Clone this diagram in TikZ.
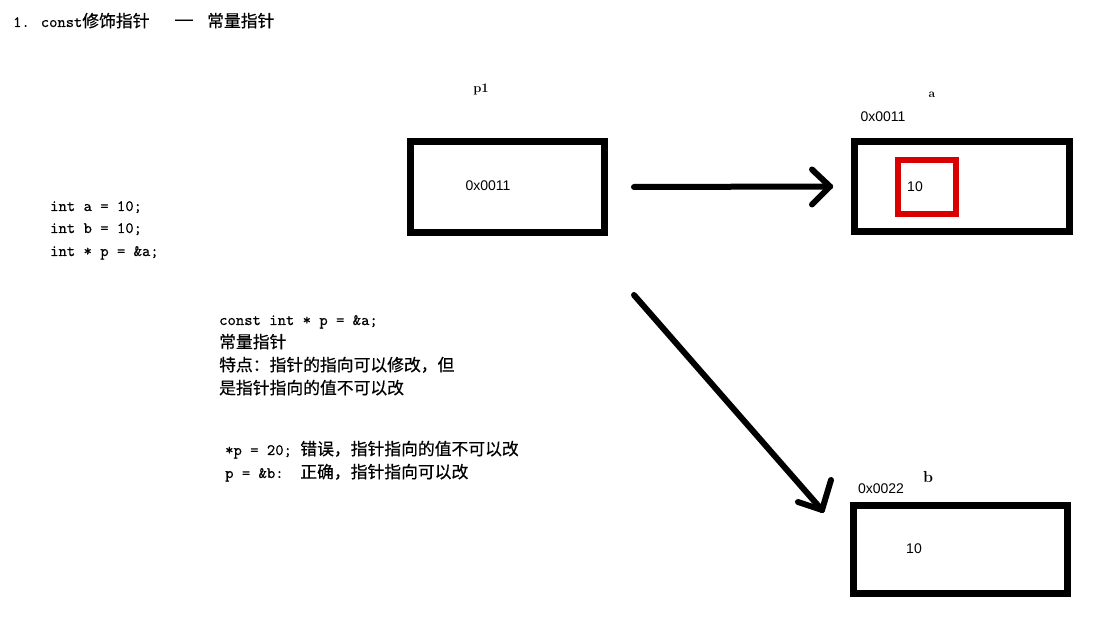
\documentclass[tikz,border=0pt]{standalone}
\usepackage{fontspec}
\newfontfamily\cjk[FakeBold=0.5]{Noto Sans CJK SC}
\newfontfamily\code{lmmono10-regular}[Extension=.otf, FakeBold=0.4]
\newfontfamily\lab{Liberation Sans}
\begin{document}
\begin{tikzpicture}[x=1pt,y=-1pt,
  membox/.style={draw=black, line width=7pt, minimum width=#1, inner sep=0pt, fill=white},
  txt/.style={inner sep=0pt, anchor=west, text height=0.8em, text depth=0.2em, font=\fontsize{16.8}{16.8}\selectfont},
  lbl/.style={inner sep=0pt, font=\lab\fontsize{14}{14}\selectfont},
  ptr/.style={line width=6pt, line cap=round, line join=round}]
\useasboundingbox[fill=white] (0,0) rectangle (1098,617);

% title
\node[txt] (title1) at (13,24) {\code\fontsize{15.8}{15.8}\selectfont 1. const\cjk\fontsize{16.8}{16.8}\selectfont 修饰指针};
\node[inner sep=0pt, font=\cjk\fontsize{22}{22}\selectfont] (dash) at (184,23) {—};
\node[txt] (title2) at (207,24) {\cjk 常量指针};

% code
\node[txt] (c1) at (50,208) {\code\fontsize{15.9}{15.9}\selectfont int a = 10;};
\node[txt] (c2) at (50,230) {\code\fontsize{15.9}{15.9}\selectfont int b = 10;};
\node[txt] (c3) at (50,253) {\code\fontsize{15.9}{15.9}\selectfont int * p = \&a;};

% explanation
\node[txt] (e1) at (219,322) {\code\fontsize{15.9}{15.9}\selectfont const int * p = \&a;};
\node[txt] (e2) at (219,345) {\cjk 常量指针};
\node[txt] (e3) at (219,368) {\cjk 特点：指针的指向可以修改，但};
\node[txt] (e4) at (219,391) {\cjk 是指针指向的值不可以改};
\node[txt] (e5) at (225,452) {\code\fontsize{15.9}{15.9}\selectfont *p = 20; \cjk\fontsize{16.8}{16.8}\selectfont 错误，指针指向的值不可以改};
\node[txt] (e6) at (225,475) {\code\fontsize{15.9}{15.9}\selectfont p = \&b:\ \ \cjk\fontsize{16.8}{16.8}\selectfont 正确，指针指向可以改};

% pointer p1
\node[inner sep=0pt, font=\fontsize{13}{13}\selectfont\bfseries] (lp1) at (481,90) {p1};
\node[membox=194pt, minimum height=91pt] (p1box) at (507.5,187) {};
\node[lbl] (v1) at (488,186) {0x0011};

% variable a
\node[inner sep=0pt, font=\fontsize{12}{12}\selectfont\bfseries] (la) at (932,95) {a};
\node[lbl] (adda) at (883,117) {0x0011};
\node[membox=215pt, minimum height=90pt] (abox) at (962,186.5) {};
\node[draw=red!85!black, line width=6pt, minimum width=58pt, minimum height=54pt, inner sep=0pt] (red) at (927,187) {};
\node[lbl] (va) at (915,187) {10};

% variable b
\node[inner sep=0pt, font=\fontsize{16}{16}\selectfont\bfseries] (lb) at (928,477) {b};
\node[lbl] (addb) at (881,489) {0x0022};
\node[membox=214pt, minimum height=88pt] (bbox) at (960.5,549.5) {};
\node[lbl] (vb) at (914,549) {10};

% arrows
\coordinate (s1) at ([xshift=26pt]p1box.east);
\coordinate (t1) at ([xshift=-21pt]abox.west);
\draw[ptr] (s1) -- (t1);
\draw[ptr] (t1) -- ++(-18,-17);
\draw[ptr] (t1) -- ++(-18,18);

\coordinate (s2) at ([xshift=26pt,yshift=-59pt]p1box.south east);
\coordinate (t2) at ([xshift=-28pt,yshift=-8pt]bbox.north west);
\draw[ptr] (s2) -- (t2);
\draw[ptr] (t2) -- ++(-24,-8);
\draw[ptr] (t2) -- ++(9,-30);
\end{tikzpicture}
\end{document}
